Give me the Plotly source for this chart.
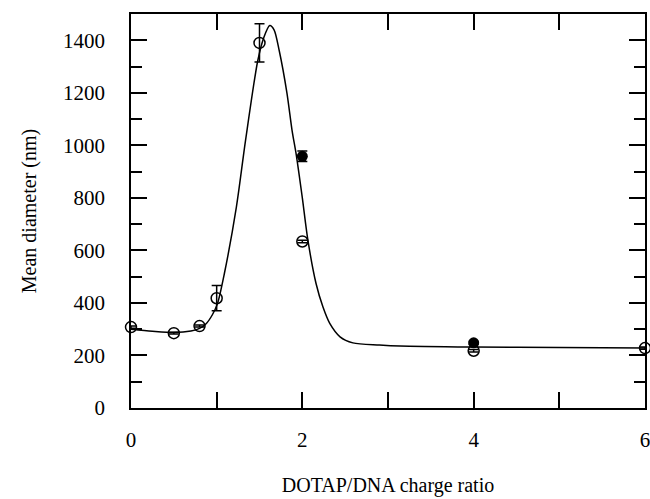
import plotly.graph_objects as go

# Open-circle data series
open_x = [0.0, 0.5, 0.8, 1.0, 1.5, 2.0, 4.0, 6.0]
open_y = [308, 285, 312, 418, 1390, 634, 218, 228]
open_err = [4, 3, 4, 48, 73, 5, 5, 4]

# Filled-circle data series
fill_x = [2.0, 4.0]
fill_y = [958, 248]
fill_err = [20, 5]

# Fitted curve
curve_x = [0.0, 0.25, 0.5, 0.7, 0.8, 0.88, 0.95, 1.01, 1.09, 1.23, 1.337, 1.48,
           1.55, 1.62, 1.67, 1.73, 1.82, 1.88, 1.93, 2.0, 2.065, 2.16, 2.24,
           2.32, 2.44, 2.59, 2.9, 3.14, 4.0, 5.0, 6.0]
curve_y = [300, 292, 287, 293, 303, 322, 355, 398, 512, 765, 1019, 1323,
           1410, 1456, 1440, 1361, 1200, 1057, 962, 800, 639, 474, 385,
           322, 271, 248, 240, 236, 232, 230, 228]

x_ticks = [0, 2, 4, 6]
y_ticks = [0, 200, 400, 600, 800, 1000, 1200, 1400]

FONT = "Liberation Serif"
Y_RANGE = [0, 1500]

fig = go.Figure()
fig.add_trace(go.Scatter(
    x=curve_x, y=curve_y, mode="lines",
    line=dict(color="black", width=1.5, shape="spline", smoothing=0.8),
    hoverinfo="skip", showlegend=False, cliponaxis=False))
fig.add_trace(go.Scatter(
    x=open_x, y=open_y, mode="markers",
    marker=dict(symbol="circle-open", size=11, color="black", line=dict(width=1.5)),
    error_y=dict(type="data", array=open_err, visible=True, color="black",
                 thickness=1.5, width=5),
    showlegend=False, cliponaxis=False))
fig.add_trace(go.Scatter(
    x=fill_x, y=fill_y, mode="markers",
    marker=dict(symbol="circle", size=11, color="black"),
    error_y=dict(type="data", array=fill_err, visible=True, color="black",
                 thickness=1.5, width=5),
    showlegend=False, cliponaxis=False))
# invisible carrier so the label axis is drawn
fig.add_trace(go.Scatter(
    x=open_x[:1], y=open_y[:1], yaxis="y2", mode="markers",
    marker=dict(opacity=0), hoverinfo="skip", showlegend=False))

tickfont = dict(family=FONT, size=21, color="black")
titlefont = dict(family=FONT, size=20, color="black")

fig.update_layout(
    width=650, height=499,
    margin=dict(l=100, r=5, t=14, b=91),
    paper_bgcolor="white", plot_bgcolor="white",
    font=dict(family=FONT, color="black"),
    xaxis=dict(
        domain=[31 / 545, 1], range=[0, 6], tickvals=x_ticks, ticklabelstandoff=12,
        showgrid=False, zeroline=False, showline=True, linecolor="black", linewidth=2,
        mirror="allticks", ticks="inside", ticklen=16, tickwidth=2, tickcolor="black",
        tickfont=tickfont, automargin=False, ticklabeloverflow="allow",
        minor=dict(dtick=1, ticks="inside", ticklen=11, tickwidth=2, tickcolor="black"),
        title=dict(text="DOTAP/DNA charge ratio", font=titlefont, standoff=27),
    ),
    yaxis=dict(
        range=Y_RANGE, tickvals=y_ticks, showticklabels=False,
        showgrid=False, zeroline=False, showline=True, linecolor="black", linewidth=2,
        mirror="allticks", ticks="inside", ticklen=16, tickwidth=2, tickcolor="black",
        automargin=False,
        minor=dict(dtick=100, ticks="inside", ticklen=11, tickwidth=2, tickcolor="black"),
    ),
    yaxis2=dict(
        overlaying="y", anchor="free", position=5 / 545, side="left",
        range=Y_RANGE, tickvals=y_ticks, tickfont=tickfont,
        showgrid=False, zeroline=False, showline=False, ticks="",
        automargin=False, ticklabeloverflow="allow",
        title=dict(text="Mean diameter (nm)", font=titlefont, standoff=20),
    ),
)
fig.write_html("out.html")
